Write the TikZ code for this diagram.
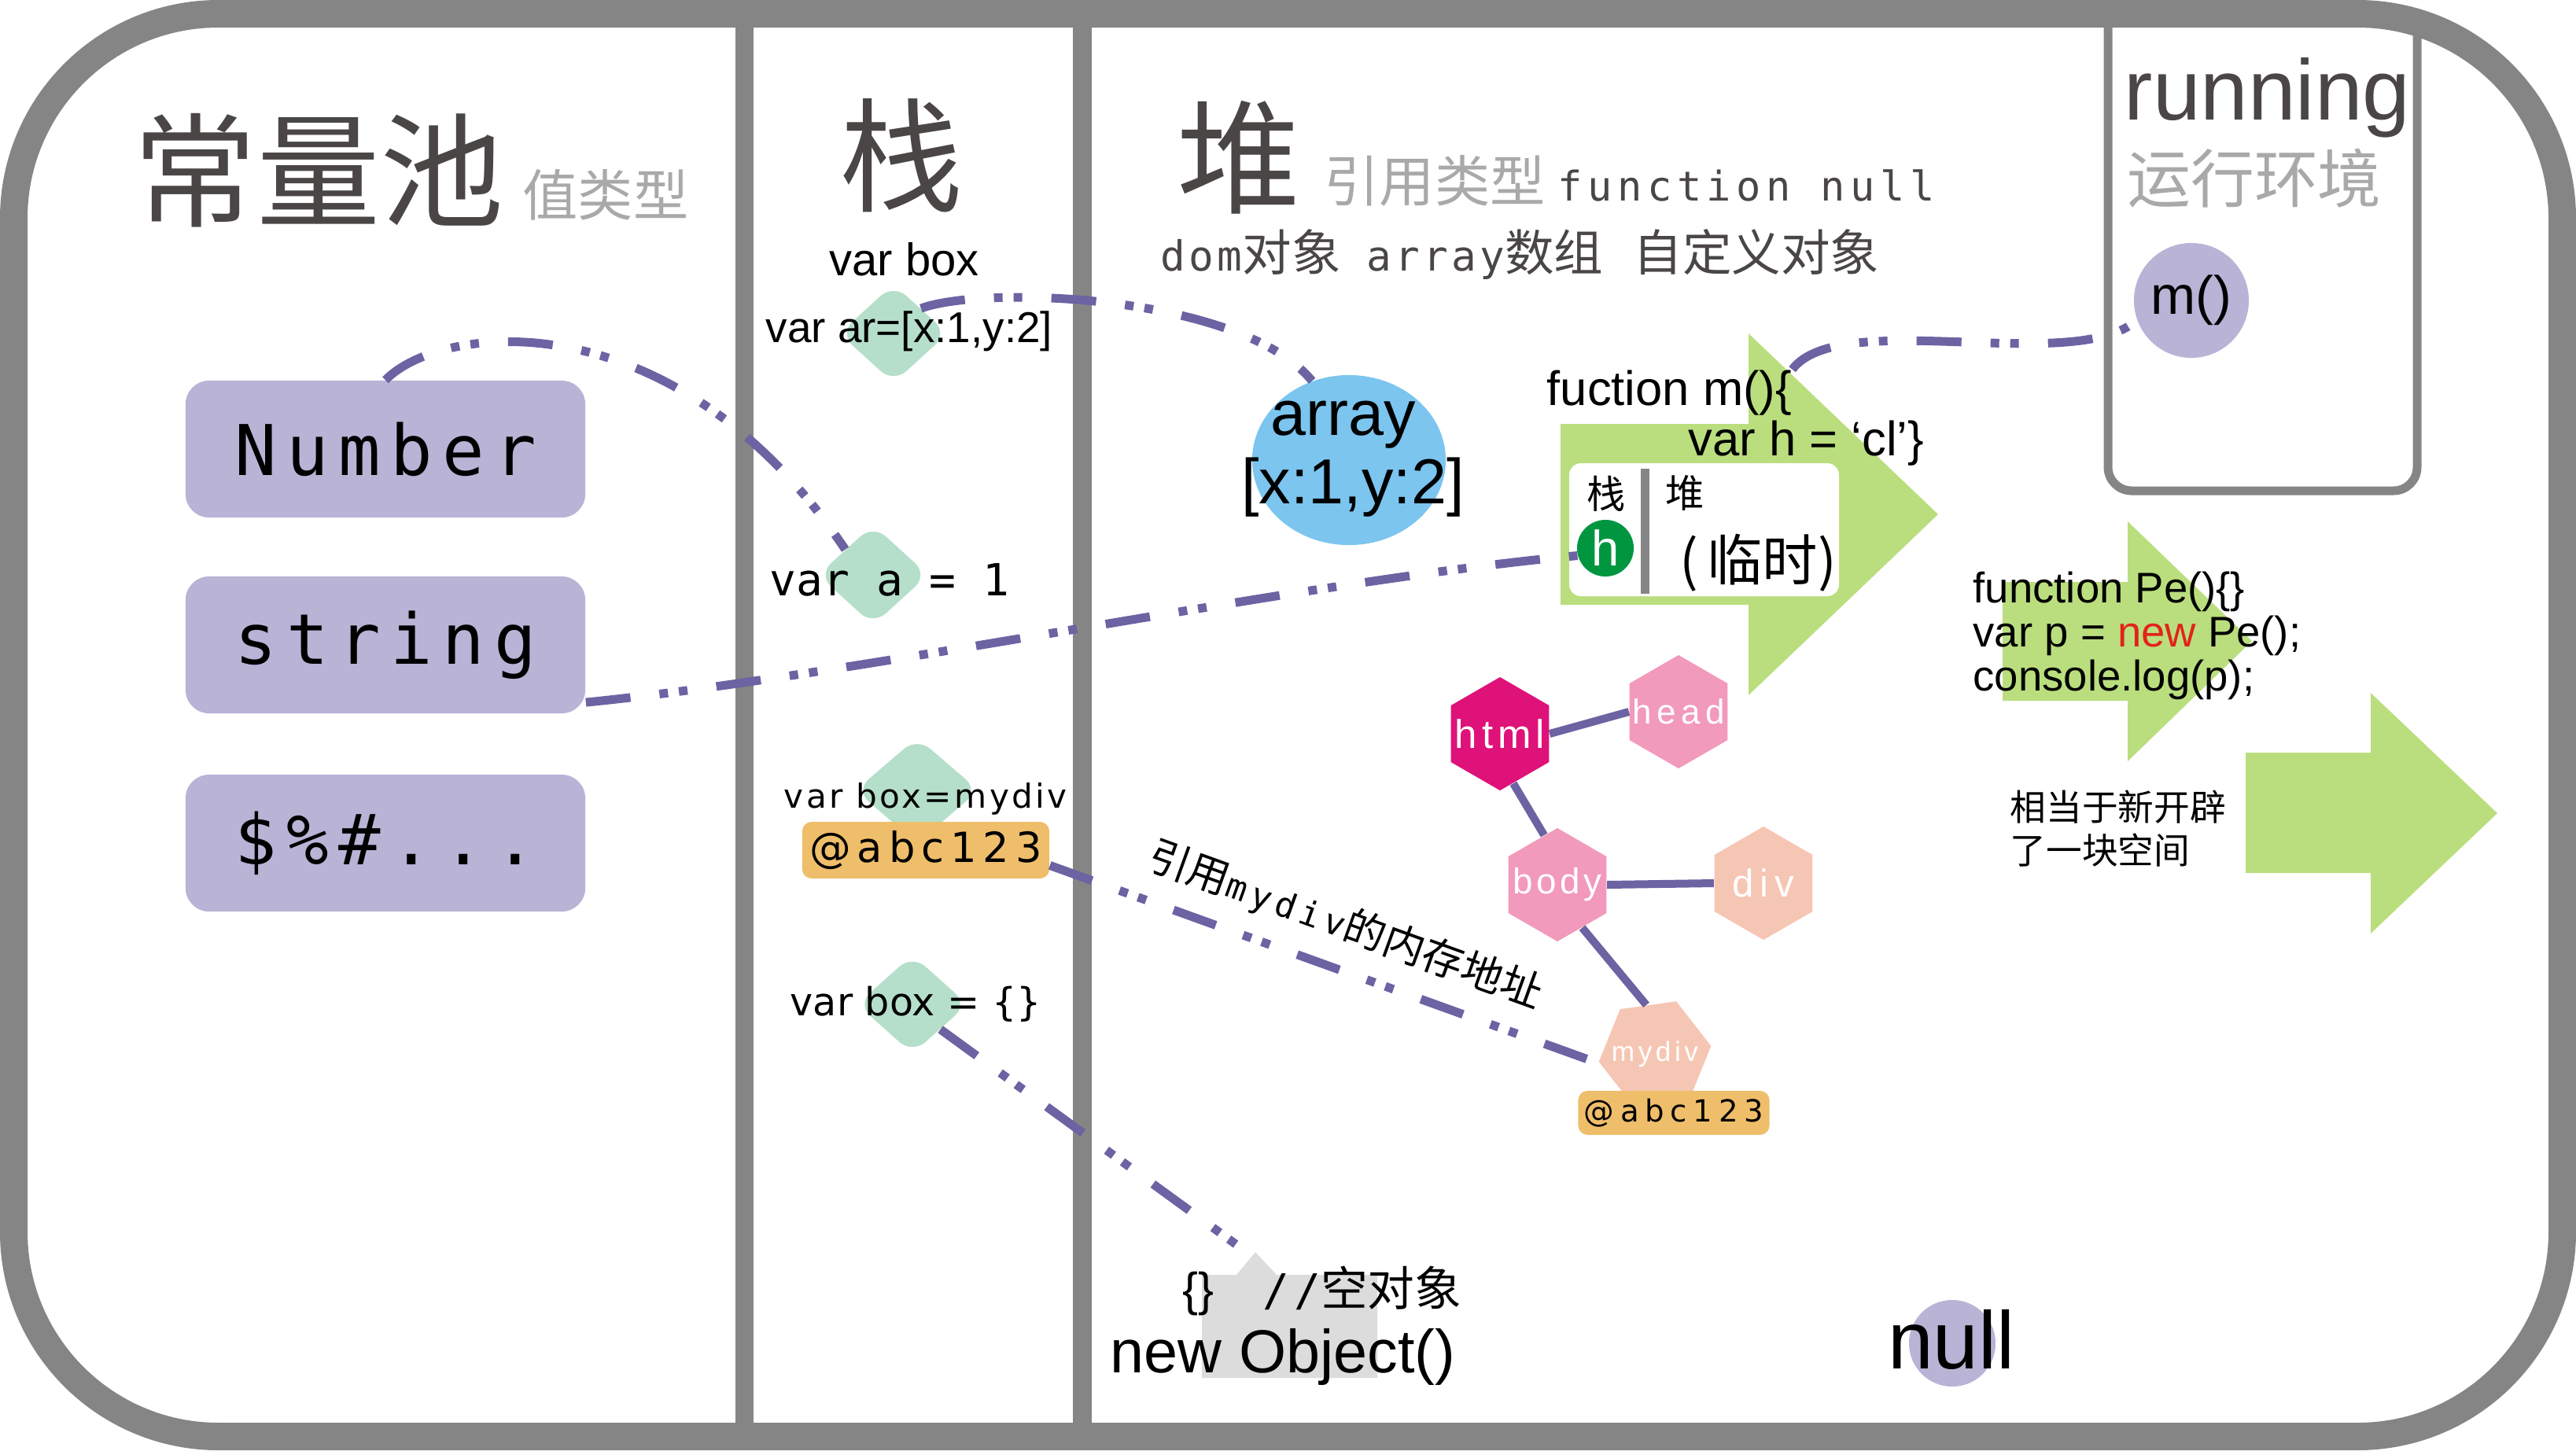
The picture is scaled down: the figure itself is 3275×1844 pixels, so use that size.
\documentclass[tikz,border=0pt]{standalone}
\usepackage{fontspec}
\setmainfont{Liberation Sans}
\newfontfamily\cjk{Noto Sans CJK SC}
\newfontfamily\mono{DejaVu Sans Mono}
\newfontfamily\dvs{DejaVu Sans}
\usetikzlibrary{shapes.geometric}

\definecolor{framegray}{HTML}{858585}
\definecolor{titlegray}{HTML}{4A4646}
\definecolor{subgray}{HTML}{A9A9A9}
\definecolor{poolviolet}{HTML}{B9B3D6}
\definecolor{slotmint}{HTML}{B5DFCA}
\definecolor{refline}{HTML}{6C63A3}
\definecolor{arrsky}{HTML}{7BC5EF}
\definecolor{arrowgreen}{HTML}{BADE7E}
\definecolor{addrorange}{HTML}{EFBE6B}
\definecolor{hgreen}{HTML}{009640}
\definecolor{htmlpink}{HTML}{DF1279}
\definecolor{nodepink}{HTML}{F19ABB}
\definecolor{nodepeach}{HTML}{F6C6B4}
\definecolor{objgray}{HTML}{DCDCDC}
\definecolor{newred}{HTML}{E2231A}

\newcommand\fsz[1]{\fontsize{#1}{#1}\selectfont}
\newcommand\track[1]{\addfontfeatures{LetterSpace=#1}}
\newcommand\symdots{\$\%\#...}

\begin{document}
\begin{tikzpicture}[x=0.01cm,y=-0.01cm,
  every node/.style={inner sep=0pt},
  pool/.style={fill=poolviolet, rounded corners=0.3cm, minimum width=5.08cm, minimum height=1.74cm},
  slot/.style={diamond, fill=slotmint, rounded corners=0.22cm, minimum width=1.4cm, minimum height=1.28cm},
  addr/.style={fill=addrorange, rounded corners=0.12cm},
  hexa/.style={regular polygon, regular polygon sides=6, shape border rotate=30, minimum size=1.44cm},
  refpath/.style={refline, line width=0.11cm, dash pattern=on 0.57cm off 0.37cm on 0.11cm off 0.14cm on 0.11cm off 0.37cm},
  hexlink/.style={refline, line width=0.1cm},
  codetxt/.style={anchor=base west},
  bigtitle/.style={font=\cjk\fsz{44.7}, text=titlegray},
  subtitle/.style={font=\cjk\fsz{20}, text=subgray}]

\useasboundingbox (0,0) rectangle (3275,1844);

% 分栏线
\fill[framegray] (935,20) rectangle (958,1825);
\fill[framegray] (1364,20) rectangle (1388,1825);
\draw[framegray, line width=0.11cm, rounded corners=0.3cm] (2680,30) -- (2680,624) -- (3073,624) -- (3073,40);

% 标题
\node[bigtitle] (tpool) at (405,217) {常量池};
\node[subtitle] (tval) at (770,248) {值类型};
\node[bigtitle] (tstack) at (1146,198) {栈};
\node[bigtitle] (theap) at (1575,200) {堆};
\node[subtitle] (tref) at (1824,230) {引用类型};
\node[codetxt, font=\mono\fsz{14.8}\track{12.5}, text=titlegray] (tfn) at (1980,255) {function null};
\node[codetxt, text=titlegray] (tdom) at (1475,344) {{\mono\fsz{15}\track{8}dom}{\cjk\fsz{17.8}对象}\hspace{0.33cm}{\mono\fsz{15}\track{8}array}{\cjk\fsz{17.8}数组}\hspace{0.38cm}{\cjk\fsz{17.8}自定义对象}};
\node[codetxt, font=\fsz{31}, text=titlegray] (trun) at (2700,152) {running};
\node[font=\cjk\fsz{23}, text=subgray] (tenv) at (2866,227) {运行环境};
\node[circle, fill=poolviolet, minimum size=1.46cm, font=\fsz{19.5}] (mcall) at (2786,382) {m()};

% 常量池
\foreach \nm/\y/\lbl in {num/571/Number, str/820/string, sym/1072/\symdots}
  \node[pool, font=\mono\fsz{25.3}\track{14}] (\nm) at (490,\y) {\lbl};

% 栈
\node[slot, minimum width=1.38cm, minimum height=1.26cm] (vararr) at (1136,424) {};
\node[slot] (vara) at (1110,731) {};
\node[slot, minimum width=1.57cm, minimum height=1.35cm] (vmydiv) at (1166,1005) {};
\node[slot, minimum width=1.41cm, minimum height=1.26cm] (vobj) at (1160,1277) {};
\node[codetxt, font=\fsz{16.5}] (vboxhead) at (1054,350) {var box};
\node[codetxt, font=\fsz{15.6}] (vartxt) at (973,435) {var ar=[x:1,y:2]};
\node[codetxt, font=\mono\fsz{16}] (vatxt) at (978,757) {var a = 1};
\node[codetxt, font=\dvs\fsz{12}\track{8}] (vmtxt) at (996,1027) {var box=mydiv};
\node[addr, minimum width=3.14cm, minimum height=0.72cm, font=\dvs\fsz{15}\track{15}] (stkaddr) at (1177,1081) {@abc123};
\node[codetxt, font=\dvs\fsz{14}] (votxt) at (1004,1291) {var box = \{\}};

% 堆
\node[ellipse, fill=arrsky, minimum width=2.46cm, minimum height=2.16cm] (arr) at (1715,585) {};
\node[anchor=base, font=\fsz{23}] (arrname) at (1708,553) {array};
\node[anchor=base, font=\fsz{23}] (arrval) at (1720,640) {[x:1,y:2]};

\fill[arrowgreen] (1984,539) -- (2223,539) -- (2223,424) -- (2464,654) -- (2223,884) -- (2223,769) -- (1984,769) -- cycle;
\fill[white, rounded corners=0.15cm] (1995,589) rectangle (2338,758);
\fill[framegray] (2086,596) rectangle (2097,755);
\node[font=\cjk\fsz{14}] (fstack) at (2042,628) {栈};
\node[font=\cjk\fsz{14}] (fheap) at (2142,627) {堆};
\node[circle, fill=hgreen, minimum size=0.72cm, text=white, font=\fsz{18}] (h) at (2041,697) {h};
\node[font=\cjk\fsz{20}] (temp) at (2235,716) {(\,临时)};
\node[codetxt, font=\fsz{17.5}] (fuc) at (1966,515) {fuction m()\{};
\node[codetxt, font=\fsz{17.5}] (hval) at (2146,579) {var h = ‘cl’\}};

\fill[arrowgreen] (2546,740) -- (2705,740) -- (2705,663) -- (2863,815) -- (2705,968) -- (2705,891) -- (2546,891) -- cycle;
\node[codetxt, font=\fsz{15.5}] (pe1) at (2508,766) {function Pe()\{\}};
\node[codetxt, font=\fsz{15.5}] (pe2) at (2508,822) {var p = \textcolor{newred}{new} Pe();};
\node[codetxt, font=\fsz{15.5}] (pe3) at (2508,878) {console.log(p);};

\fill[arrowgreen] (2855,957) -- (3014,957) -- (3014,881) -- (3175,1034) -- (3014,1187) -- (3014,1110) -- (2855,1110) -- cycle;
\node[anchor=west, font=\cjk\fsz{13}] (open1) at (2555,1026) {相当于新开辟};
\node[anchor=west, font=\cjk\fsz{13}] (open2) at (2555,1081) {了一块空间};

% dom 树
\node[hexa, fill=htmlpink, label={[text=white, font=\fsz{14.5}\track{12}]center:html}] (html) at (1907,933) {};
\node[hexa, fill=nodepink, label={[text=white, font=\fsz{12.5}\track{15}]center:head}] (head) at (2134,905) {};
\node[hexa, fill=nodepink, label={[text=white, font=\fsz{13}\track{10}]center:body}] (body) at (1980,1125) {};
\node[hexa, fill=nodepeach, label={[text=white, font=\fsz{14}\track{16}]center:div}] (div) at (2242,1123) {};
\node[hexa, fill=nodepeach, shape border rotate=8, label={[text=white, font=\fsz{10}\track{13}]center:mydiv}] (mydiv) at (2104,1340) {};
\node[addr, minimum width=2.43cm, minimum height=0.56cm, font=\dvs\fsz{11}\track{20}] (divaddr) at (2128,1415) {@abc123};
\draw[hexlink] (html.east) -- (head.west);
\draw[hexlink] (html.-75) -- (body.105);
\draw[hexlink] (body.east) -- (div.west);
\draw[hexlink] (body.-60) -- (mydiv.100);

% 空对象
\fill[objgray] (1528,1621) -- (1572,1621) -- (1596,1592) -- (1623,1621) -- (1751,1621) -- (1751,1752) -- (1528,1752) -- cycle;
\coordinate (objtip) at (1582,1590);
\node[codetxt] (emptyobj) at (1503,1660) {{\fsz{17}\{\}}\hspace{0.62cm}{\mono\fsz{16}\track{10}//}{\cjk\fsz{17}空对象}};
\node[codetxt, font=\fsz{22}] (newobj) at (1411,1745) {new Object()};

\node[circle, fill=poolviolet, minimum size=1.1cm] (nullc) at (2482,1708) {};
\node[anchor=base, font=\fsz{29.5}] (nulltxt) at (2481,1740) {null};

% 引用连线
\draw[refpath] (num.north) .. controls +(72,-74) and +(-215,-320) .. (vara.north west);
\draw[refpath] (str.-16) .. controls +(350,-35) and +(-350,32) .. (h.195);
\draw[refpath] (vararr.north east) .. controls +(80,-30) and +(-90,-110) .. (arr.115);
\draw[refpath] (stkaddr.-7) -- node[pos=0.51, above=0.24cm, sloped, text=black] {{\cjk\fsz{15}引用}{\mono\fsz{12.5}\track{15}mydiv}{\cjk\fsz{15}的内存地址}} (mydiv.190);
\draw[refpath] (vobj.south east) -- (objtip);
\draw[refpath] (fuc.north east) .. controls +(60,-80) and +(-80,70) .. (mcall.200);

% 外框
\draw[framegray, line width=0.35cm, rounded corners=2.6cm] (17.5,17.5) rectangle (3257.5,1826.5);
\end{tikzpicture}
\end{document}
